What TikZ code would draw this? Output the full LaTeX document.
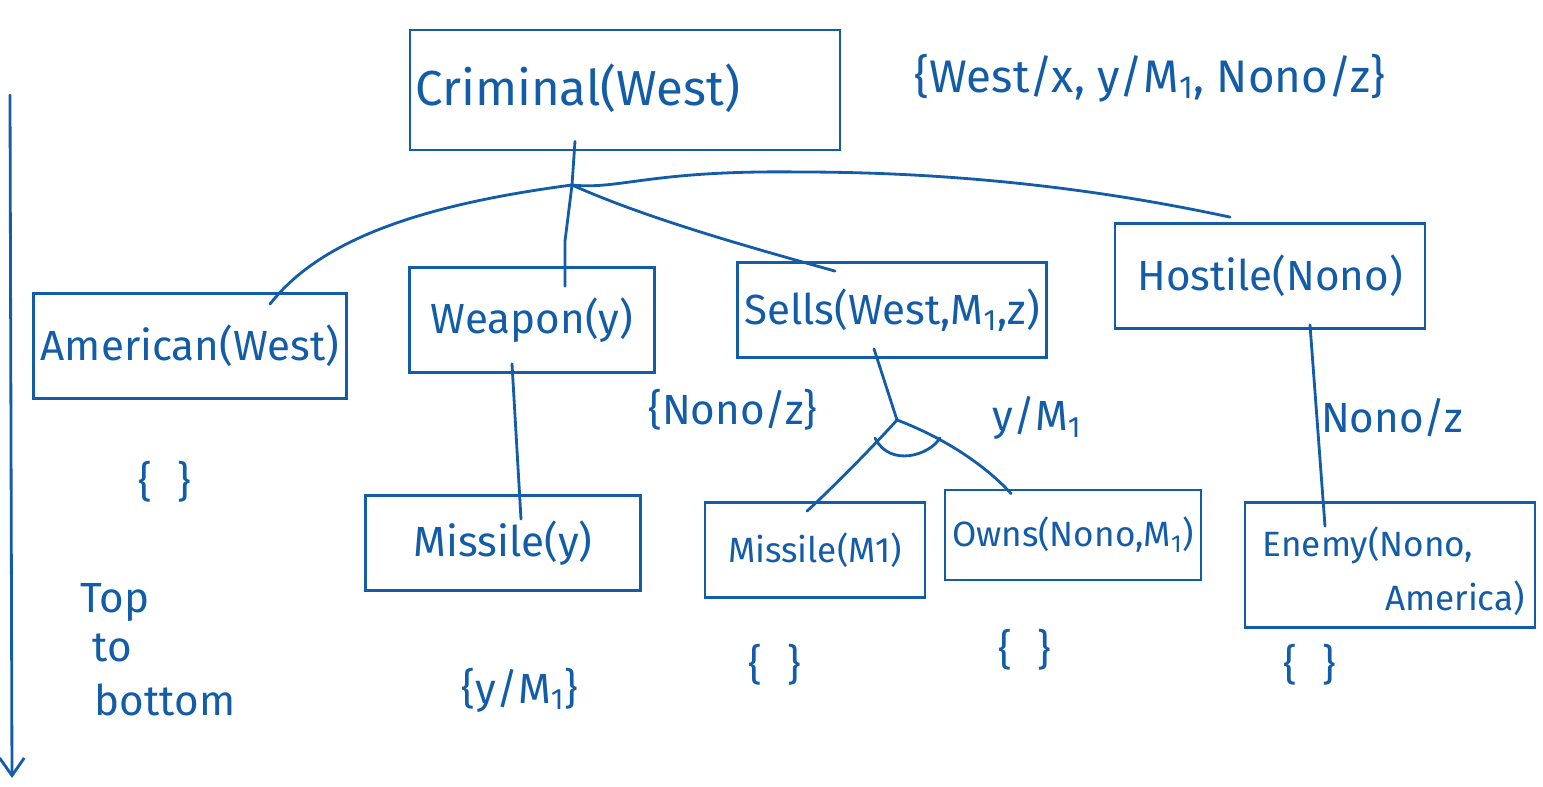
\documentclass[tikz,border=0pt]{standalone}
\usepackage{fontspec}
\setmainfont{Fira Sans}
\usetikzlibrary{arrows.meta,calc}
\definecolor{ink}{RGB}{18,92,168}
\begin{document}
\begin{tikzpicture}[x=0.02cm,y=-0.02cm,
  ink line/.style={draw=ink,line width=1.6pt,line cap=round},
  pbox/.style={draw=ink,line width=1.6pt,rectangle,text=ink,font=\fontsize{24}{28}\selectfont,inner sep=4pt},
  small/.style={font=\fontsize{20}{24}\selectfont},
  lbl/.style={text=ink,font=\fontsize{24}{28}\selectfont,inner sep=0pt}]
\useasboundingbox (0,0) rectangle (1543,787);
% boxes
\node[pbox,minimum width=8.6cm,minimum height=2.4cm] (crim) at (625,90) {};
\node[lbl,anchor=west,font=\fontsize{28}{32}\selectfont] (crimt) at (415,88) {Criminal(West)};
\node[pbox,minimum width=6.2cm,minimum height=2.1cm] (amer) at (190,346) {American(West)};
\node[pbox,minimum width=4.9cm,minimum height=2.1cm] (weap) at (532,320) {Weapon(y)};
\node[pbox,minimum width=6.1cm,minimum height=1.9cm] (sells) at (892,310) {Sells(West,M\textsubscript{1},z)};
\node[pbox,minimum width=6.2cm,minimum height=2.1cm] (host) at (1270,276) {Hostile(Nono)};
\node[pbox,minimum width=5.5cm,minimum height=1.9cm] (mis1) at (503,543) {Missile(y)};
\node[pbox,small,minimum width=4.4cm,minimum height=1.9cm] (mis2) at (815,550) {Missile(M1)};
\node[pbox,small,minimum width=5.1cm,minimum height=1.8cm] (owns) at (1073,535) {Owns(Nono,M\textsubscript{1})};
\node[pbox,minimum width=5.8cm,minimum height=2.5cm] (enemy) at (1390,565) {};
\node[lbl,small] (enemyt1) at (1368,545) {Enemy(Nono,};
\node[lbl,small] (enemyt2) at (1455,598) {America)};
% junctions
\coordinate (j) at (572,185);
\coordinate (k) at (897,420);
% edges
\draw[ink line] ($(crim.south)+(-50,-10)$) -- (j);
\draw[ink line] (j) .. controls (420,205) and (320,240) .. ($(amer.north)+(80,12)$);
\draw[ink line] (j) -- ($(weap.north)+(33,-25)$) -- ($(weap.north)+(33,20)$);
\draw[ink line] (j) .. controls (650,220) and (760,250) .. ($(sells.north)+(-57,10)$);
\draw[ink line] (j) .. controls (620,190) and (650,170) .. (800,172) .. controls (1000,172) and (1150,200) .. ($(host.north)+(-40,-5)$);
\draw[ink line] ($(weap.south)+(-20,-10)$) -- ($(mis1.north)+(18,25)$);
\draw[ink line] ($(sells.south)+(-18,-10)$) -- (k);
\draw[ink line] (k) .. controls (870,450) and (830,490) .. ($(mis2.north)+(-8,10)$);
\draw[ink line] (k) .. controls (950,440) and (990,470) .. ($(owns.north)+(-62,5)$);
\draw[ink line] (875,438) .. controls (890,468) and (930,455) .. (940,438);
\draw[ink line] ($(host.south)+(40,-5)$) -- ($(enemy.north)+(-65,25)$);
% substitution labels
\node[lbl,font=\fontsize{26}{30}\selectfont] (sub0) at (1150,78) {\{West/x, y/M\textsubscript{1}, Nono/z\}};
\node[lbl] (sub1) at (733,410) {\{Nono/z\}};
\node[lbl] (sub2) at (1037,418) {y/M\textsubscript{1}};
\node[lbl] (sub3) at (1392,418) {Nono/z};
\node[lbl] (e1) at (165,482) {\{\hspace{0.6em}\}};
\node[lbl] (e2) at (520,690) {\{y/M\textsubscript{1}\}};
\node[lbl] (e3) at (775,665) {\{\hspace{0.6em}\}};
\node[lbl] (e4) at (1025,650) {\{\hspace{0.6em}\}};
\node[lbl] (e5) at (1310,665) {\{\hspace{0.6em}\}};
% left arrow
\coordinate (ltop) at (10,95);
\coordinate (lbot) at (12,778);
\draw[ink line,-{Straight Barb[length=10pt,width=14pt]}] (ltop) -- (lbot);
\node[lbl] (tb1) at (115,602) {Top};
\node[lbl] (tb2) at (112,648) {to};
\node[lbl] (tb3) at (165,700) {bottom};
\end{tikzpicture}
\end{document}
